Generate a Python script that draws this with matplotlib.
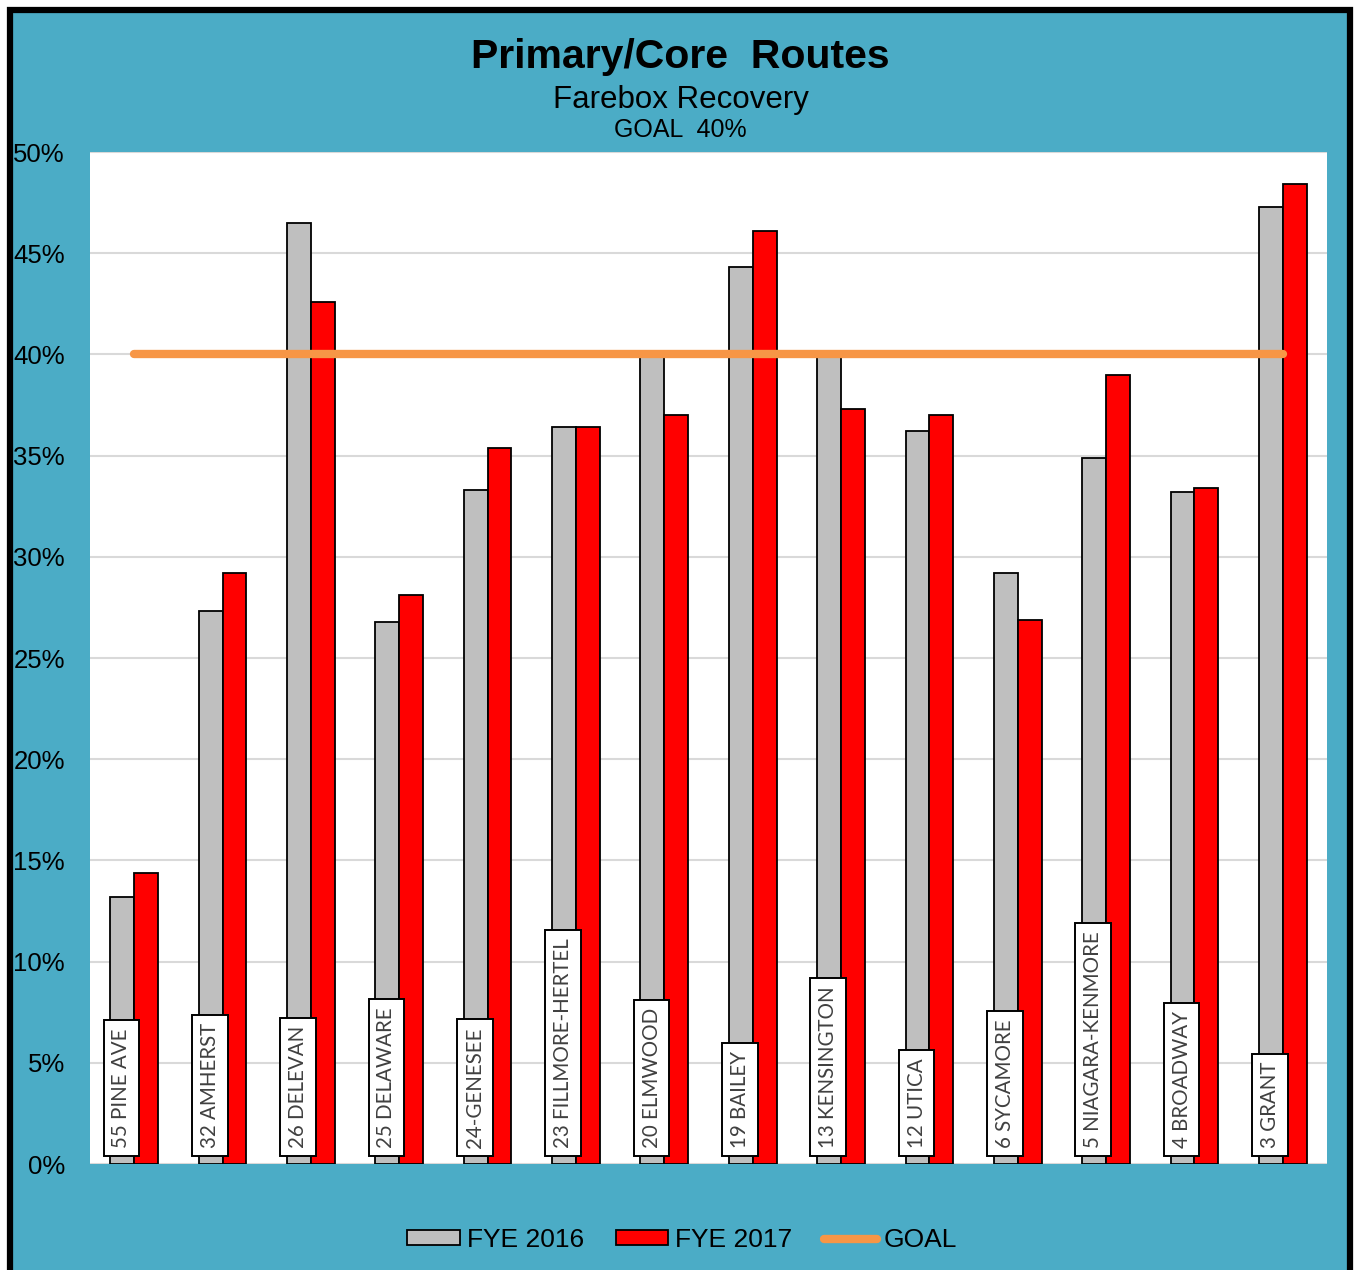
import matplotlib.pyplot as plt
import matplotlib.patches as mpatches
from matplotlib.lines import Line2D
import numpy as np

routes = ['55 PINE AVE', '32 AMHERST', '26 DELEVAN', '25 DELAWARE', '24-GENESEE',
          '23 FILLMORE-HERTEL', '20 ELMWOOD', '19 BAILEY', '13 KENSINGTON', '12 UTICA',
          '6 SYCAMORE', '5 NIAGARA-KENMORE', '4 BROADWAY', '3 GRANT']
fye_2016 = [13.2, 27.3, 46.5, 26.8, 33.3, 36.4, 40.0, 44.3, 40.0, 36.2, 29.2, 34.9, 33.2, 47.3]
fye_2017 = [14.4, 29.2, 42.6, 28.1, 35.4, 36.4, 37.0, 46.1, 37.3, 37.0, 26.9, 39.0, 33.4, 48.4]
goal = 40
yticks = [0, 5, 10, 15, 20, 25, 30, 35, 40, 45, 50]

teal = '#4BACC6'
gray = '#BFBFBF'
red = '#FF0000'
orange = '#F79646'
narrow = ['Liberation Sans Narrow', 'Liberation Sans', 'DejaVu Sans']

fig = plt.figure(figsize=(13.56, 12.70), dpi=100)
fig.patch.set_facecolor('white')

# outer frame
W, H = 1356, 1270
frame = mpatches.Rectangle((10 / W, -0.05), (1350 - 10) / W, (1270 - 10) / H + 0.05,
                           transform=fig.transFigure, facecolor=teal, edgecolor='black',
                           linewidth=4.5, zorder=-1)
fig.patches.append(frame)

ax = fig.add_axes([90 / W, 1 - 1164 / H, (1327 - 90) / W, (1164 - 152) / H])
ax.set_zorder(2)
ax.set_facecolor('white')

x = np.arange(len(routes))
bw = 0.27
ax.bar(x - bw / 2, fye_2016, bw, color=gray, edgecolor='black', linewidth=1.3,
       label='FYE 2016', zorder=3)
ax.bar(x + bw / 2, fye_2017, bw, color=red, edgecolor='black', linewidth=1.3,
       label='FYE 2017', zorder=3)
ax.plot([x[0], x[-1]], [goal, goal], color=orange, linewidth=6, solid_capstyle='round',
        label='GOAL', zorder=5)

for xi, name in zip(x, routes):
    ax.text(xi - bw / 2 - 0.01, 0.8, name, rotation=90, ha='center', va='bottom',
            family=['Lato', 'DejaVu Sans'], fontsize=14.8, color='#404040', zorder=6,
            bbox=dict(boxstyle='square,pad=0.38', facecolor='white', edgecolor='black',
                      linewidth=1.4))

ax.set_xlim(-0.5, 13.5)
ax.set_ylim(0, 50)
ax.set_yticks(yticks)
ax.set_yticklabels([f'{t}%' for t in yticks], family=narrow, fontsize=18.5)
ax.set_xticks([])
ax.tick_params(axis='y', length=0, pad=18)
ax.yaxis.grid(True, color='#D9D9D9', linewidth=1.5, zorder=0)
ax.set_axisbelow(True)
for s in ax.spines.values():
    s.set_visible(False)

fig.text(0.502, 1 - 57 / H, 'Primary/Core  Routes', ha='center', va='center',
         family=narrow, fontsize=29.5, fontweight='bold')
fig.text(0.502, 1 - 100 / H, 'Farebox Recovery', ha='center', va='center',
         family=narrow, fontsize=22.5)
fig.text(0.502, 1 - 130 / H, 'GOAL  40%', ha='center', va='center',
         family=narrow, fontsize=18)

handles = [mpatches.Patch(facecolor=gray, edgecolor='black', linewidth=1.3),
           mpatches.Patch(facecolor=red, edgecolor='black', linewidth=1.3),
           Line2D([0], [0], color=orange, linewidth=6, solid_capstyle='round')]
fig.legend(handles, ['FYE 2016', 'FYE 2017', 'GOAL'], loc='center',
           bbox_to_anchor=(0.503, 1 - 1240 / H), ncol=3, frameon=False,
           prop={'family': narrow, 'size': 19}, handlelength=2.0, handleheight=0.5,
           handletextpad=0.25, columnspacing=1.2)

fig.savefig('out.png', dpi=100, facecolor=fig.get_facecolor())
